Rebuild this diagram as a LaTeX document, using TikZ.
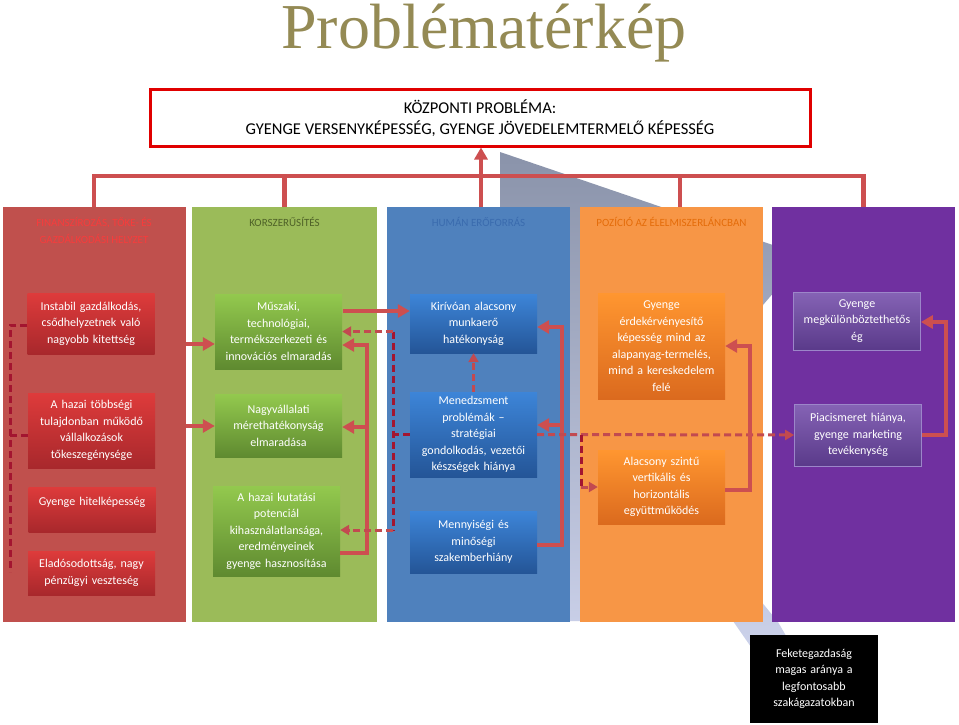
\documentclass[tikz,border=0pt]{standalone}
\usepackage{fontspec}
\setmainfont{Carlito}
\newfontfamily\titlefont{Liberation Serif}
\usetikzlibrary{arrows.meta,calc}
\definecolor{colred}{HTML}{C0504D}
\definecolor{colgreen}{HTML}{9BBB59}
\definecolor{colblue}{HTML}{4F81BD}
\definecolor{colorange}{HTML}{F79646}
\definecolor{colpurple}{HTML}{7030A0}
\definecolor{titlecol}{HTML}{948A54}
\definecolor{conncol}{HTML}{CD4F50}
\definecolor{dashlight}{HTML}{C24A50}
\definecolor{dashdark}{HTML}{A31530}
\definecolor{hdred}{HTML}{F73C3C}
\definecolor{hdgreen}{HTML}{4F6228}
\definecolor{hdblue}{HTML}{3A6BAE}
\definecolor{hdorange}{HTML}{E46C0A}
\definecolor{greyA}{HTML}{8A93AA}
\definecolor{greyB}{HTML}{CDD3EC}
\definecolor{centralred}{HTML}{E00000}
\definecolor{rTop}{HTML}{DE3B3B}\definecolor{rBot}{HTML}{A8282C}
\definecolor{gTop}{HTML}{93C94E}\definecolor{gBot}{HTML}{5F8A30}
\definecolor{bTop}{HTML}{3D85D8}\definecolor{bBot}{HTML}{245597}
\definecolor{oTop}{HTML}{FF9630}\definecolor{oBot}{HTML}{DB6A1E}
\definecolor{pTop}{HTML}{8563B5}\definecolor{pBot}{HTML}{5A3A8A}
\definecolor{pEdge}{HTML}{9C86C9}
\tikzset{
  col/.style={rectangle, inner sep=0pt, minimum width=183pt, minimum height=415pt},
  hdr/.style={align=center, font=\fontsize{11}{17}\selectfont},
  box/.style={rectangle, inner sep=1pt, align=center, text=white, text width=125pt,
    minimum width=127pt, font=\fontsize{12}{16.5}\selectfont},
  redbox/.style={box, top color=rTop, bottom color=rBot},
  greenbox/.style={box, top color=gTop, bottom color=gBot},
  bluebox/.style={box, top color=bTop, bottom color=bBot},
  orangebox/.style={box, top color=oTop, bottom color=oBot},
  purplebox/.style={box, draw=pEdge, line width=0.8pt, top color=pTop, bottom color=pBot},
  conn/.style={draw=conncol, line width=4.5pt},
  arrowc/.style={conn, -{Triangle[length=12pt,width=13pt]}},
  dashl/.style={draw=dashlight, line width=3pt, dash pattern=on 7pt off 4pt},
  dashd/.style={draw=dashdark, line width=3pt, dash pattern=on 7pt off 4pt},
  dasharrow/.style={dashl, -{Triangle[length=9pt,width=10pt]}},
}
\begin{document}
\begin{tikzpicture}[x=1pt,y=-1pt]
\useasboundingbox (0,0) rectangle (959,725);
\fill[white] (0,0) rectangle (959,725);

% background arrow shape
\shade[top color=greyA, bottom color=greyB]
  (500,152) -- (805,256) -- (763,305) -- (760,600) -- (778,622) -- (800,660)
  -- (760,660) -- (733,621) -- (560,621) -- (560,207) -- (500,207) -- cycle;

% title
\node[font=\titlefont\fontsize{64}{64}\selectfont, text=titlecol, anchor=base] (title) at (484,49) {Problématérkép};

% central box
\node[draw=centralred, line width=3pt, minimum width=660pt, minimum height=56pt,
  inner sep=0pt, align=center, font=\fontsize{16.5}{21}\selectfont] (central) at (480,118)
  {KÖZPONTI PROBLÉMA:\\GYENGE VERSENYKÉPESSÉG, GYENGE JÖVEDELEMTERMELŐ KÉPESSÉG};

% columns
\node[col, fill=colred] (colR) at (94,414.5) {};
\node[col, fill=colgreen, minimum width=185pt] (colG) at (284.5,414.5) {};
\node[col, fill=colblue] (colB) at (478.5,414.5) {};
\node[col, fill=colorange] (colO) at (671.5,414.5) {};
\node[col, fill=colpurple] (colP) at (863.5,414.5) {};

% headers
\node[hdr, text=hdred] (hR) at (94,230.5) {FINANSZÍROZÁS, TŐKE- ÉS\\GAZDÁLKODÁSI HELYZET};
\node[hdr, text=hdgreen] (hG) at (284.5,222) {KORSZERŰSÍTÉS};
\node[hdr, text=hdblue] (hB) at (478.5,222) {HUMÁN ERŐFORRÁS};
\node[hdr, text=hdorange] (hO) at (671.5,222) {POZÍCIÓ AZ ÉLELMISZERLÁNCBAN};

% boxes
\node[redbox, minimum height=61pt] (r1) at (91,323.5) {Instabil gazdálkodás,\\csődhelyzetnek való\\nagyobb kitettség};
\node[redbox, minimum height=75pt] (r2) at (91.5,430.5) {A hazai többségi\\tulajdonban működő\\vállalkozások\\tőkeszegénysége};
\node[redbox, minimum height=45pt] (r3) at (92,509.5) {Gyenge hitelképesség\\\mbox{}};
\node[redbox, minimum height=44pt] (r4) at (91.5,573) {Eladósodottság, nagy\\pénzügyi veszteség};

\node[greenbox, minimum height=75pt] (g1) at (278.5,331.5) {Műszaki,\\technológiai,\\termékszerkezeti és\\innovációs elmaradás};
\node[greenbox, minimum height=63pt] (g2) at (278.5,425.5) {Nagyvállalati\\mérethatékonyság\\elmaradása};
\node[greenbox, minimum height=90pt] (g3) at (276.5,531) {A hazai kutatási\\potenciál\\kihasználatlansága,\\eredményeinek\\gyenge hasznosítása};

\node[bluebox, minimum height=59pt] (b1) at (473.5,323.5) {Kirívóan alacsony\\munkaerő\\hatékonyság};
\node[bluebox, minimum height=85pt] (b2) at (473.5,434.5) {Menedzsment\\problémák --\\stratégiai\\gondolkodás, vezetői\\készségek hiánya};
\node[bluebox, minimum height=62pt] (b3) at (473.5,542) {Mennyiségi és\\minőségi\\szakemberhiány};

\node[orangebox, minimum height=106pt] (o1) at (661.5,346) {Gyenge\\érdekérvényesítő\\képesség mind az\\alapanyag-termelés,\\mind a kereskedelem\\felé};
\node[orangebox, minimum height=74pt] (o2) at (661.5,487) {Alacsony szintű\\vertikális és\\horizontális\\együttműködés};

\node[purplebox, minimum height=58pt] (p1) at (857,321) {Gyenge\\megkülönböztethetős\\ég};
\node[purplebox, minimum height=62pt] (p2) at (858,435) {Piacismeret hiánya,\\gyenge marketing\\tevékenység};

\node[box, fill=black, minimum width=128pt, minimum height=88pt] (k) at (814,679) {Feketegazdaság\\magas aránya a\\legfontosabb\\szakágazatokban};

% top bus
\draw[conn] (colR.north) -- ++(0,-31) -| (colP.north);
\draw[conn] (colG.north) -- ++(0,-31);
\draw[conn] ($(colO.north)+(8.5,0)$) -- ++(0,-31);
\draw[arrowc] ($(colB.north)+(2.5,0)$) -- ($(central.south)+(1,0)$);

% red column dashed bracket
\draw[dashd] ($(r1.west)+(0,1.5)$) -- ++(-17,0) -- ($(r1.west)+(-17,248.5)$);
\draw[dashd] ($(r2.west)+(0,4.5)$) -- ++(-18,0);

% red column -> green boxes
\draw[arrowc] (colR.east |- {$(g1.west)+(0,12.5)$}) -- ($(g1.west)+(0,12.5)$);
\draw[arrowc] (colR.east |- {$(g2.west)+(0,0.5)$}) -- ($(g2.west)+(0,0.5)$);

% green
\draw[arrowc] ($(g1.east)+(1,-20.5)$) -- ($(b1.west)+(0,-12.5)$);
\draw[arrowc] ($(g3.east)+(0,22)$) -- ++(27,0) |- ($(g1.east)+(0,13.5)$);
\draw[arrowc] ($(g2.east)+(25,1.5)$) -- ($(g2.east)+(0,1.5)$);

% dashed from B2 to green
\draw[dashd] ($(g1.east)+(51,0)$) -- ($(g3.east)+(53,-1)$);
\draw[dashd] (b2.west) -- ++(-17,0);
\draw[dasharrow] ($(g1.east)+(51,0)$) -- (g1.east);
\draw[dasharrow] ($(g3.east)+(53,-1)$) -- ($(g3.east)+(0,-1)$);
\draw[dasharrow] (b2.north) -- (b1.south);

% blue
\draw[arrowc] ($(b3.east)+(0,3)$) -- ++(25,0) |- ($(b1.east)+(0,3.5)$);
\draw[arrowc] ($(b2.east)+(25,-9.5)$) -- ($(b2.east)+(0,-9.5)$);

% long dashed
\draw[dasharrow] (b2.east) -- (p2.west);
\draw[dashd] ($(b2.east)+(44,0)$) -- ($(b2.east |- o2.west)+(44,0)$);
\draw[dasharrow] ($(b2.east |- o2.west)+(44,0)$) -- (o2.west);

% orange
\draw[arrowc] ($(o2.east)+(0,3)$) -- ++(25,0) |- (o1.east);
% purple
\draw[arrowc] (p2.east) -- ++(24,0) |- ($(p1.east)+(0,1)$);
\end{tikzpicture}
\end{document}
